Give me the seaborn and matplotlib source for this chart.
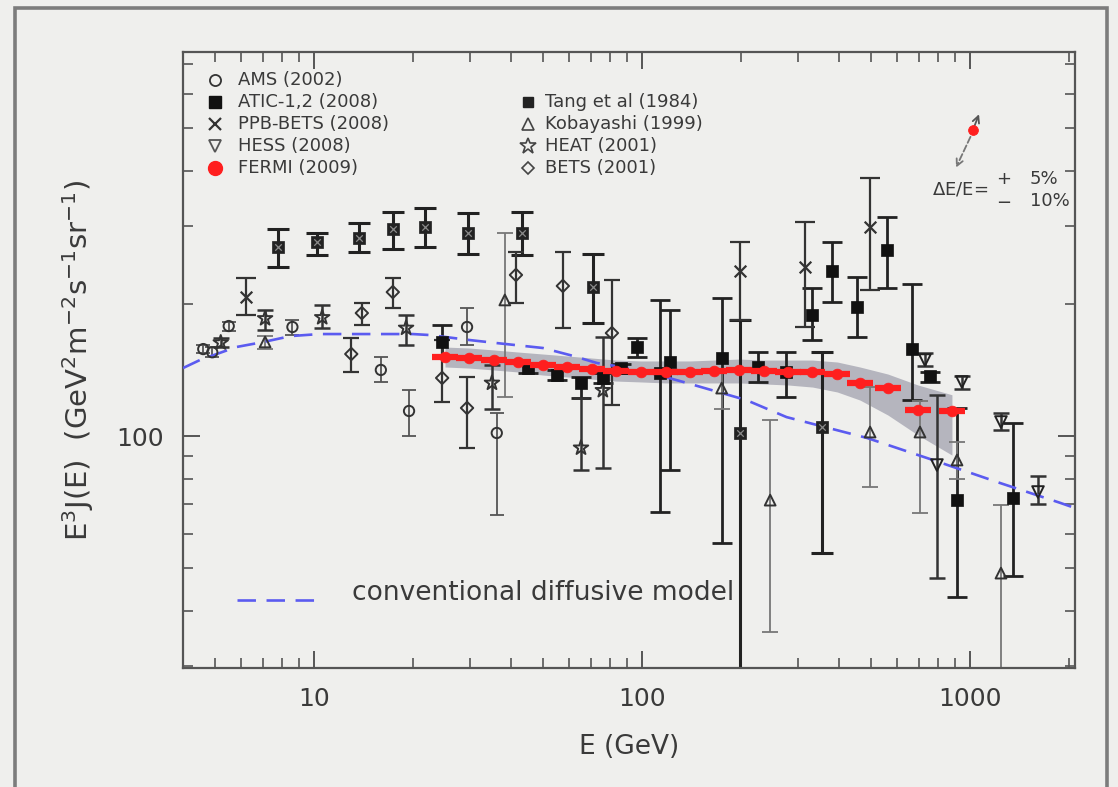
import numpy as np
import matplotlib
matplotlib.use("Agg")
import matplotlib.pyplot as plt
import seaborn as sns
from matplotlib.patches import Rectangle
from matplotlib.ticker import FixedLocator, LogLocator, NullFormatter, FixedFormatter

# ---------------- data: E (GeV), E^3 J(E), error-bar ends ----------------
ams_E = [4.6, 4.9, 5.5, 8.6, 16.0, 19.5, 29.3, 36.1]
ams_V = [157.6, 155.0, 177.8, 176.9, 141.3, 114.0, 176.9, 101.6]
ams_lo = [154, 151, 173, 170, 132.7, 100, 161, 66]
ams_hi = [161, 159, 182, 183.5, 151, 127, 195, 113]

atic_E = [24.6, 44.9, 55.1, 65.2, 76.0, 86.3, 96.6, 113.5, 121.7, 175.4,
          225.8, 274.8, 330, 380, 452, 558, 666, 755, 913, 1352]
atic_V = [163.6, 142.7, 137.6, 132.0, 135.5, 142.7, 159.3, 139.1, 147.3, 150.4,
          143.5, 139.8, 188.4, 237.1, 196.4, 264.8, 157.6, 136.9, 71.5, 72.3]
atic_lo = [152, 139, 134, 122, 132, 139, 151, 67.2, 83.7, 57.1,
           132.7, 122.6, 165.3, 201.6, 167.9, 217, 121, 133, 43.1, 48.1]
atic_hi = [178.7, 146, 141, 136, 139, 146, 167, 203.8, 193, 206,
           155, 155, 217, 276, 230, 315, 222, 140, 116, 107]

ppb_E = [6.2, 199, 314, 496]
ppb_V = [207.0, 237.0, 242.0, 298.5]
ppb_lo = [188.4, 183.5, 177, 215]
ppb_hi = [228.7, 276, 306, 386]

hess_E = [729, 793, 945, 1243, 1612]
hess_V = [148.8, 85.9, 132.7, 107.6, 74.6]
hess_lo = [144, 47.6, 128, 103.2, 70]
hess_hi = [154, 124, 137, 112.8, 81]

tang_E = [7.8, 10.2, 13.7, 17.4, 21.8, 29.5, 43.1, 70.9, 199, 354]
tang_V = [268.9, 276.0, 281.8, 295.4, 298.5, 289.3, 289.3, 218.2, 101.6, 104.8]
tang_lo = [242.1, 258, 262, 266, 269, 259.3, 258, 180.6, 20, 54.2]
tang_hi = [295.4, 290, 305, 323, 330, 322, 323, 259.3, 183.5, 155]

koba_E = [7.1, 38.2, 175, 246, 496, 704, 913, 1243]
koba_V = [163.6, 203.8, 128.5, 71.5, 102.1, 102.1, 88.2, 48.8]
koba_lo = [158, 122.6, 115, 35.8, 76.6, 67, 80, 20]
koba_hi = [169, 289, 140, 108.7, 129, 120, 97, 69.7]

heat_E = [5.2, 7.1, 10.6, 19.1, 34.9, 65.2, 76.0]
heat_V = [163.0, 185.0, 186.0, 176.0, 132.0, 94.0, 127.0]
heat_lo = [159, 174, 176, 161, 115, 83.7, 84.6]
heat_hi = [167, 193, 198, 188, 145, 122, 168]

bets_E = [13.0, 14.0, 17.4, 24.6, 29.3, 41.3, 57.4, 81.0]
bets_V = [153.6, 190.3, 212.4, 135.5, 115.8, 232.3, 219.3, 171.4]
bets_lo = [140, 179, 195, 119.5, 94, 200.6, 176, 117.6]
bets_hi = [167, 201, 229, 165, 136, 262, 262, 226]

fermi_E = [25.1, 29.7, 35.3, 41.9, 49.8, 59.2, 70.3, 83.5, 99.2, 118, 140,
           166, 198, 235, 279, 331, 394, 462, 562, 694, 881]
fermi_V = [151.2, 150.4, 148.8, 147.3, 145.0, 143.5, 142.0, 140.5, 139.8, 139.8,
           139.8, 140.5, 141.3, 140.5, 139.8, 139.8, 138.4, 132.0, 128.5, 114.6, 114.0]
fermi_band_lo = [143.5, 142.7, 141.3, 139.8, 137.6, 136.2, 134.7, 133.3, 132.7, 132.0,
                 132.0, 132.0, 132.0, 131.3, 130.6, 129.2, 125.9, 120.7, 111.6, 100.5, 90.5]
fermi_band_hi = [159.3, 158.5, 156.9, 155.2, 153.6, 152.0, 150.4, 148.8, 148.1, 148.1,
                 148.1, 148.8, 149.6, 148.8, 148.8, 148.8, 147.3, 143.5, 138.3, 130.6, 124.1]

model_E = [3.99, 4.5, 5.8, 7.0, 8.5, 10.4, 14.5, 20, 22.6, 29.9, 36.2, 49.9, 60.4,
           73, 98.6, 137, 208, 276, 485, 771, 1235, 1882, 2090]
model_V = [142.7, 148.9, 159.3, 163.5, 168.7, 170.5, 170.5, 170.5, 169.6, 165.2, 162.6,
           158.5, 152.7, 146.5, 141.3, 132.0, 120.7, 110.4, 99.0, 88.2, 78.2, 70.5, 68.6]

x_ticks = [10, 100, 1000]
x_tick_labels = ["10", "100", "1000"]
y_ticks = [100]
y_tick_labels = ["100"]

# ---------------- figure ----------------
sns.set_theme(style="ticks")
plt.rcParams["font.family"] = ["DejaVu Sans"]
plt.rcParams["mathtext.fontset"] = "dejavusans"

BG = "#efefed"
INK = "#3a3a3a"
RED = "#ff1f1f"
fig = plt.figure(figsize=(11.18, 7.87), dpi=100, facecolor=BG)
ax = fig.add_axes([183 / 1118, 1 - 668 / 787, 892 / 1118, 616 / 787])
ax.set_facecolor(BG)

# outer frame around the panel
fig.add_artist(Rectangle((15 / 1118, -0.05), (1107 - 15) / 1118, 1.05 - 8 / 787,
                         transform=fig.transFigure, fill=False,
                         edgecolor="#7c7c7c", lw=2.6, clip_on=False))

ax.set_xscale("log")
ax.set_yscale("log")
ax.set_xlim(3.99, 2090)
ax.set_ylim(29.7, 746)


def errbars(E, V, lo, hi, color="#222222", lw=1.9, cap=6):
    E = np.asarray(E, float)
    V = np.asarray(V, float)
    yerr = np.vstack([V - np.asarray(lo, float), np.asarray(hi, float) - V])
    ax.errorbar(E, V, yerr=yerr, fmt="none", ecolor=color, elinewidth=lw,
                capsize=cap, capthick=lw, zorder=2)


# Fermi systematic band and model curve
ax.fill_between(fermi_E, fermi_band_lo, fermi_band_hi, color="#9696a6",
                alpha=0.65, lw=0, zorder=1)
sns.lineplot(x=model_E, y=model_V, ax=ax, color="#5b5bf0", lw=1.9, sort=False,
             zorder=3)
ax.lines[-1].set_dashes((7, 4))

# error bars
errbars(tang_E, tang_V, tang_lo, tang_hi, cap=8, lw=2.2)
errbars(atic_E, atic_V, atic_lo, atic_hi, cap=7, lw=2.0)
errbars(ppb_E, ppb_V, ppb_lo, ppb_hi, color="#333333", lw=1.6, cap=7)
errbars(hess_E, hess_V, hess_lo, hess_hi, color="#333333", lw=1.8, cap=6)
errbars(ams_E, ams_V, ams_lo, ams_hi, color="#555555", lw=1.3, cap=5)
errbars(heat_E, heat_V, heat_lo, heat_hi, color="#333333", lw=1.8, cap=6)
errbars(bets_E, bets_V, bets_lo, bets_hi, color="#333333", lw=1.6, cap=6)
errbars(koba_E, koba_V, koba_lo, koba_hi, color="#777777", lw=1.3, cap=6)

# markers
hollow = dict(facecolor="none", linewidth=1.4, zorder=4)
sns.scatterplot(x=ams_E, y=ams_V, ax=ax, marker="o", s=55, edgecolor="#333333", **hollow)
sns.scatterplot(x=heat_E, y=heat_V, ax=ax, marker="*", s=120, edgecolor="#333333", **hollow)
sns.scatterplot(x=bets_E, y=bets_V, ax=ax, marker="D", s=40, edgecolor="#333333", **hollow)
sns.scatterplot(x=koba_E, y=koba_V, ax=ax, marker="^", s=60, edgecolor="#333333", **hollow)
sns.scatterplot(x=hess_E, y=hess_V, ax=ax, marker="v", s=70, edgecolor="#222222", **hollow)
sns.scatterplot(x=ppb_E, y=ppb_V, ax=ax, marker="x", s=70, color="#333333",
                linewidth=1.6, zorder=4)
sns.scatterplot(x=atic_E, y=atic_V, ax=ax, marker="s", s=65, color="#111111",
                edgecolor="#111111", linewidth=0.5, zorder=5)
sns.scatterplot(x=tang_E, y=tang_V, ax=ax, marker="s", s=65, color="#222222",
                edgecolor="#222222", linewidth=0.5, zorder=5)
sns.scatterplot(x=tang_E, y=tang_V, ax=ax, marker="x", s=22, color="#8a8a8a",
                linewidth=0.9, zorder=6)

# Fermi points with energy bins
fE = np.asarray(fermi_E, float)
ax.errorbar(fE, fermi_V, xerr=[fE - fE / 1.095, fE * 1.095 - fE], fmt="none",
            ecolor=RED, elinewidth=4.5, capsize=0, zorder=6)
sns.scatterplot(x=fermi_E, y=fermi_V, ax=ax, marker="o", s=60, color=RED,
                edgecolor=RED, linewidth=0.5, zorder=7)

# energy-scale uncertainty indicator
sns.scatterplot(x=[1021], y=[496], ax=ax, marker="o", s=50, color=RED,
                edgecolor=RED, zorder=7)
ax.annotate("", xy=(1073, 546), xytext=(1021, 496),
            arrowprops=dict(arrowstyle="->", color="#555555", lw=1.3))
ax.annotate("", xy=(899, 402), xytext=(1012, 485),
            arrowprops=dict(arrowstyle="->", color="#777777", lw=1.3, linestyle="--"))
ax.text(0.8397, 0.776, r"$\Delta$E/E=", transform=ax.transAxes, fontsize=13,
        color=INK, ha="left", va="center")
ax.text(0.920, 0.794, "+", transform=ax.transAxes, fontsize=13, color=INK,
        ha="center", va="center")
ax.text(0.920, 0.755, "\u2212", transform=ax.transAxes, fontsize=13, color=INK,
        ha="center", va="center")
ax.text(0.949, 0.794, "5%", transform=ax.transAxes, fontsize=13, color=INK,
        ha="left", va="center")
ax.text(0.949, 0.758, "10%", transform=ax.transAxes, fontsize=13, color=INK,
        ha="left", va="center")

# legend entries
legend_rows = [0.9545, 0.9188, 0.8831, 0.8474, 0.8117]
left_entries = [
    ("AMS (2002)", dict(marker="o", mfc="none", mec="#333333", ms=8, mew=1.3)),
    ("ATIC-1,2 (2008)", dict(marker="s", mfc="#111111", mec="#111111", ms=8.5)),
    ("PPB-BETS (2008)", dict(marker="x", mec="#333333", ms=9, mew=1.6)),
    ("HESS (2008)", dict(marker="v", mfc="none", mec="#555555", ms=8.5, mew=1.3)),
    ("FERMI (2009)", dict(marker="o", mfc=RED, mec=RED, ms=10)),
]
right_entries = [
    ("Tang et al (1984)", dict(marker="s", mfc="#222222", mec="#222222", ms=7)),
    ("Kobayashi (1999)", dict(marker="^", mfc="none", mec="#444444", ms=8, mew=1.2)),
    ("HEAT (2001)", dict(marker="*", mfc="none", mec="#444444", ms=12, mew=1.2)),
    ("BETS (2001)", dict(marker="D", mfc="none", mec="#444444", ms=6, mew=1.2)),
]
for (label, style), yy in zip(left_entries, legend_rows):
    ax.plot([0.0359], [yy], transform=ax.transAxes, ls="none", clip_on=False, **style)
    ax.text(0.0617, yy, label, transform=ax.transAxes, fontsize=13, color=INK,
            ha="left", va="center")
for (label, style), yy in zip(right_entries, legend_rows[1:]):
    ax.plot([0.3868], [yy], transform=ax.transAxes, ls="none", clip_on=False, **style)
    ax.text(0.4058, yy, label, transform=ax.transAxes, fontsize=13, color=INK,
            ha="left", va="center")

# model key
ax.plot([0.0605, 0.1513], [0.1104, 0.1104], transform=ax.transAxes,
        color="#5b5bf0", lw=1.9, dashes=(7, 4))
ax.text(0.1895, 0.1218, "conventional diffusive model", transform=ax.transAxes,
        fontsize=19, color=INK, ha="left", va="center")

# axes styling
for sp in ax.spines.values():
    sp.set_color("#555555")
    sp.set_linewidth(1.6)
ax.xaxis.set_major_locator(FixedLocator(x_ticks))
ax.xaxis.set_major_formatter(FixedFormatter(x_tick_labels))
ax.yaxis.set_major_locator(FixedLocator(y_ticks))
ax.yaxis.set_major_formatter(FixedFormatter(y_tick_labels))
ax.xaxis.set_minor_locator(LogLocator(base=10, subs=np.arange(2, 10)))
ax.yaxis.set_minor_locator(LogLocator(base=10, subs=np.arange(2, 10)))
ax.xaxis.set_minor_formatter(NullFormatter())
ax.yaxis.set_minor_formatter(NullFormatter())
ax.tick_params(which="both", direction="in", top=True, right=True,
               color="#555555", labelcolor=INK, labelsize=18, pad=14)
ax.tick_params(which="major", length=12, width=1.4)
ax.tick_params(which="minor", length=7, width=1.2)

ax.set_xlabel("E (GeV)", fontsize=19, color=INK, labelpad=16)
ax.set_ylabel(r"E$^3$J(E)  (GeV$^2$m$^{-2}$s$^{-1}$sr$^{-1}$)", fontsize=21,
              color=INK, labelpad=14)

fig.savefig("out.png", dpi=100, facecolor=BG)
